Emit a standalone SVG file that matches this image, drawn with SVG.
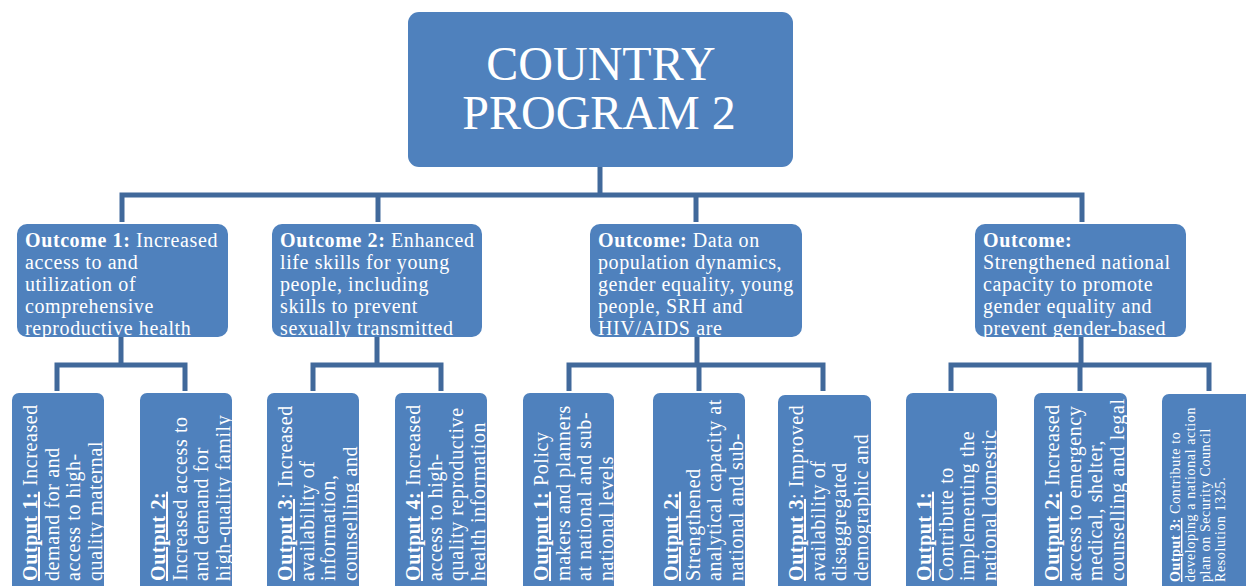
<svg xmlns="http://www.w3.org/2000/svg" width="1246" height="586" viewBox="0 0 1246 586">
  <style>
    .box { fill: #4f81bd; }
    .conn { fill: none; stroke: #41699b; stroke-width: 5; stroke-linejoin: miter; }
    .title { font-family: "Liberation Serif", "Times New Roman", serif; font-size: 48px; fill: #ffffff; text-anchor: middle; }
    .lbl { font-family: "Liberation Serif", "Times New Roman", serif; font-size: 20px; fill: #ffffff; letter-spacing: 0.6px; }
    .small { font-size: 14px; letter-spacing: 0.6px; }
    .b { font-weight: bold; }
    .u { font-weight: bold; text-decoration: underline; }
  </style>
  <defs>
    <clipPath id="c-o1"><rect x="17" y="224" width="211" height="113" rx="10"/></clipPath>
    <clipPath id="c-o2"><rect x="272" y="224" width="210" height="113" rx="10"/></clipPath>
    <clipPath id="c-o3"><rect x="590" y="224" width="212" height="113" rx="10"/></clipPath>
    <clipPath id="c-o4"><rect x="975" y="224" width="211" height="113" rx="10"/></clipPath>
    <clipPath id="c-p11"><rect x="12" y="393" width="92" height="210" rx="7"/></clipPath>
    <clipPath id="c-p12"><rect x="140" y="393" width="92" height="210" rx="7"/></clipPath>
    <clipPath id="c-p23"><rect x="267" y="393" width="92" height="210" rx="7"/></clipPath>
    <clipPath id="c-p24"><rect x="395" y="393" width="92" height="210" rx="7"/></clipPath>
    <clipPath id="c-p31"><rect x="523" y="393" width="91" height="210" rx="7"/></clipPath>
    <clipPath id="c-p32"><rect x="653" y="393" width="92" height="210" rx="7"/></clipPath>
    <clipPath id="c-p33"><rect x="778" y="395" width="93" height="210" rx="7"/></clipPath>
    <clipPath id="c-p41"><rect x="906" y="393" width="91" height="210" rx="7"/></clipPath>
    <clipPath id="c-p42"><rect x="1034" y="393" width="93" height="210" rx="7"/></clipPath>
    <clipPath id="c-p43"><rect x="1162" y="394" width="92" height="210" rx="7"/></clipPath>
  </defs>

  <!-- tree connectors -->
  <g id="connectors">
    <path class="conn" d="M600 167 V195"/>
    <path class="conn" d="M122 222 V195 H1082 V222"/>
    <path class="conn" d="M378 195 V222"/>
    <path class="conn" d="M696 195 V222"/>

    <path class="conn" d="M121 337 V365"/>
    <path class="conn" d="M57 391 V365 H185 V391"/>

    <path class="conn" d="M377 337 V365"/>
    <path class="conn" d="M313 391 V365 H441 V391"/>

    <path class="conn" d="M697 337 V365"/>
    <path class="conn" d="M569 391 V365 H823 V391"/>
    <path class="conn" d="M699 365 V391"/>

    <path class="conn" d="M1081 337 V365"/>
    <path class="conn" d="M951 391 V365 H1209 V391"/>
    <path class="conn" d="M1080 365 V391"/>
  </g>

  <!-- root -->
  <g id="country-program">
    <rect class="box" x="408" y="12" width="385" height="155" rx="11"/>
    <text class="title" x="601" y="80">COUNTRY</text>
    <text class="title" x="599" y="129">PROGRAM 2</text>
  </g>

  <!-- outcomes -->
  <g id="outcome-1">
    <rect class="box" x="17" y="224" width="211" height="113" rx="10"/>
    <g clip-path="url(#c-o1)">
      <text class="lbl" x="25" y="247"><tspan class="b">Outcome 1:</tspan> Increased</text>
      <text class="lbl" x="25" y="269">access to and</text>
      <text class="lbl" x="25" y="291">utilization of</text>
      <text class="lbl" x="25" y="313">comprehensive</text>
      <text class="lbl" x="25" y="335">reproductive health</text>
    </g>
  </g>
  <g id="outcome-2">
    <rect class="box" x="272" y="224" width="210" height="113" rx="10"/>
    <g clip-path="url(#c-o2)">
      <text class="lbl" x="280" y="247"><tspan class="b">Outcome 2:</tspan> Enhanced</text>
      <text class="lbl" x="280" y="269">life skills for young</text>
      <text class="lbl" x="280" y="291">people, including</text>
      <text class="lbl" x="280" y="313">skills to prevent</text>
      <text class="lbl" x="280" y="335">sexually transmitted</text>
    </g>
  </g>
  <g id="outcome-3">
    <rect class="box" x="590" y="224" width="212" height="113" rx="10"/>
    <g clip-path="url(#c-o3)">
      <text class="lbl" x="598" y="247"><tspan class="b">Outcome:</tspan> Data on</text>
      <text class="lbl" x="598" y="269">population dynamics,</text>
      <text class="lbl" x="598" y="291">gender equality, young</text>
      <text class="lbl" x="598" y="313">people, SRH and</text>
      <text class="lbl" x="598" y="335">HIV/AIDS are</text>
    </g>
  </g>
  <g id="outcome-4">
    <rect class="box" x="975" y="224" width="211" height="113" rx="10"/>
    <g clip-path="url(#c-o4)">
      <text class="lbl" x="983" y="247"><tspan class="b">Outcome:</tspan></text>
      <text class="lbl" x="983" y="269">Strengthened national</text>
      <text class="lbl" x="983" y="291">capacity to promote</text>
      <text class="lbl" x="983" y="313">gender equality and</text>
      <text class="lbl" x="983" y="335">prevent gender-based</text>
    </g>
  </g>

  <!-- outputs (text reads bottom to top) -->
  <g id="output-1-1">
    <rect class="box" x="12" y="393" width="92" height="210" rx="7"/>
    <g clip-path="url(#c-p11)">
      <text class="lbl" transform="translate(12 581) rotate(-90)">
        <tspan x="0" y="25"><tspan class="u">Output 1:</tspan> Increased</tspan>
        <tspan x="0" y="46.7">demand for and</tspan>
        <tspan x="0" y="68.4">access to high-</tspan>
        <tspan x="0" y="90.1">quality maternal</tspan>
      </text>
    </g>
  </g>
  <g id="output-1-2">
    <rect class="box" x="140" y="393" width="92" height="210" rx="7"/>
    <g clip-path="url(#c-p12)">
      <text class="lbl" transform="translate(140 581) rotate(-90)">
        <tspan x="0" y="25"><tspan class="u">Output  2:</tspan></tspan>
        <tspan x="0" y="46.7">Increased access to</tspan>
        <tspan x="0" y="68.4">and demand for</tspan>
        <tspan x="0" y="90.1">high-quality family</tspan>
      </text>
    </g>
  </g>
  <g id="output-2-3">
    <rect class="box" x="267" y="393" width="92" height="210" rx="7"/>
    <g clip-path="url(#c-p23)">
      <text class="lbl" transform="translate(267 581) rotate(-90)">
        <tspan x="0" y="25"><tspan class="u">Output  3</tspan>: Increased</tspan>
        <tspan x="0" y="46.7">availability of</tspan>
        <tspan x="0" y="68.4">information,</tspan>
        <tspan x="0" y="90.1">counselling and</tspan>
      </text>
    </g>
  </g>
  <g id="output-2-4">
    <rect class="box" x="395" y="393" width="92" height="210" rx="7"/>
    <g clip-path="url(#c-p24)">
      <text class="lbl" transform="translate(395 581) rotate(-90)">
        <tspan x="0" y="25"><tspan class="u">Output 4:</tspan> Increased</tspan>
        <tspan x="0" y="46.7">access to high-</tspan>
        <tspan x="0" y="68.4">quality reproductive</tspan>
        <tspan x="0" y="90.1">health information</tspan>
      </text>
    </g>
  </g>
  <g id="output-3-1">
    <rect class="box" x="523" y="393" width="91" height="210" rx="7"/>
    <g clip-path="url(#c-p31)">
      <text class="lbl" transform="translate(523 581) rotate(-90)">
        <tspan x="0" y="25"><tspan class="u">Output 1:</tspan> Policy</tspan>
        <tspan x="0" y="46.7">makers and planners</tspan>
        <tspan x="0" y="68.4">at national and sub-</tspan>
        <tspan x="0" y="90.1">national levels</tspan>
      </text>
    </g>
  </g>
  <g id="output-3-2">
    <rect class="box" x="653" y="393" width="92" height="210" rx="7"/>
    <g clip-path="url(#c-p32)">
      <text class="lbl" transform="translate(653 581) rotate(-90)">
        <tspan x="0" y="25"><tspan class="u">Output 2:</tspan></tspan>
        <tspan x="0" y="46.7">Strengthened</tspan>
        <tspan x="0" y="68.4">analytical capacity at</tspan>
        <tspan x="0" y="90.1">national and sub-</tspan>
      </text>
    </g>
  </g>
  <g id="output-3-3">
    <rect class="box" x="778" y="395" width="93" height="210" rx="7"/>
    <g clip-path="url(#c-p33)">
      <text class="lbl" transform="translate(778 581) rotate(-90)">
        <tspan x="0" y="25"><tspan class="u">Output 3</tspan>: Improved</tspan>
        <tspan x="0" y="46.7">availability of</tspan>
        <tspan x="0" y="68.4">disaggregated</tspan>
        <tspan x="0" y="90.1">demographic and</tspan>
      </text>
    </g>
  </g>
  <g id="output-4-1">
    <rect class="box" x="906" y="393" width="91" height="210" rx="7"/>
    <g clip-path="url(#c-p41)">
      <text class="lbl" transform="translate(906 581) rotate(-90)">
        <tspan x="0" y="25"><tspan class="u">Output 1:</tspan></tspan>
        <tspan x="0" y="46.7">Contribute to</tspan>
        <tspan x="0" y="68.4">implementing the</tspan>
        <tspan x="0" y="90.1">national domestic</tspan>
      </text>
    </g>
  </g>
  <g id="output-4-2">
    <rect class="box" x="1034" y="393" width="93" height="210" rx="7"/>
    <g clip-path="url(#c-p42)">
      <text class="lbl" transform="translate(1034 581) rotate(-90)">
        <tspan x="0" y="25"><tspan class="u">Output 2:</tspan> Increased</tspan>
        <tspan x="0" y="46.7">access to emergency</tspan>
        <tspan x="0" y="68.4">medical, shelter,</tspan>
        <tspan x="0" y="90.1">counselling and legal</tspan>
      </text>
    </g>
  </g>
  <g id="output-4-3">
    <rect class="box" x="1162" y="394" width="92" height="210" rx="7"/>
    <g clip-path="url(#c-p43)">
      <text class="lbl small" transform="translate(1162 582) rotate(-90)">
        <tspan x="0" y="18"><tspan class="u">Output 3:</tspan> Contribute to</tspan>
        <tspan x="0" y="33">developing a national action</tspan>
        <tspan x="0" y="48">plan on Security Council</tspan>
        <tspan x="0" y="63">Resolution 1325.</tspan>
      </text>
    </g>
  </g>
</svg>
